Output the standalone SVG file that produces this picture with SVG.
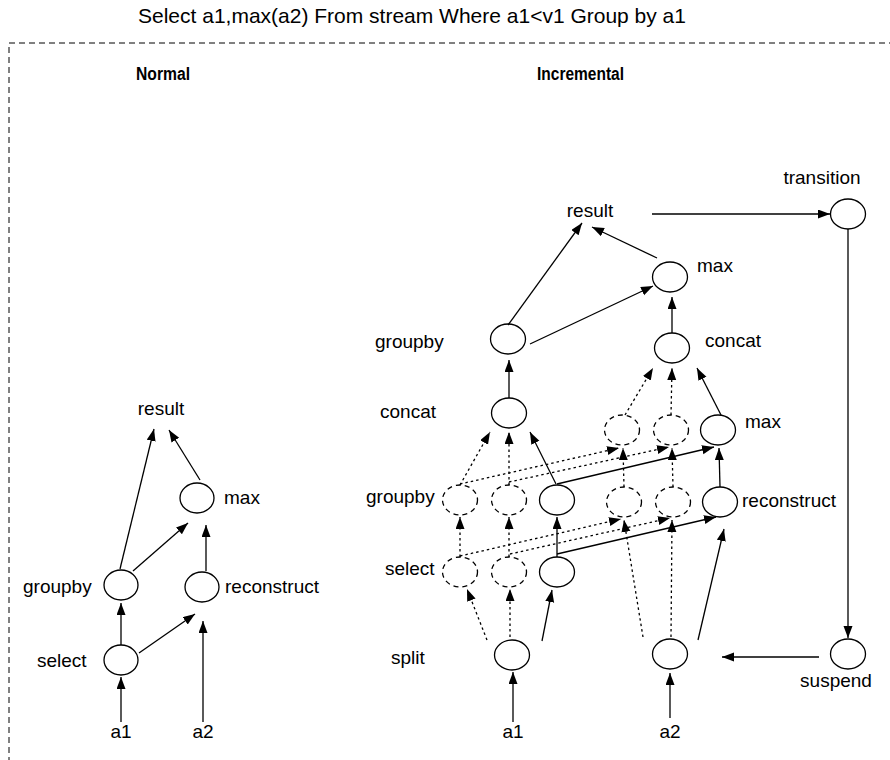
<svg xmlns="http://www.w3.org/2000/svg" width="890" height="760" viewBox="0 0 890 760">
  <defs>
    <marker id="arrow" markerUnits="userSpaceOnUse" markerWidth="13" markerHeight="10" refX="12" refY="4.5" orient="auto">
      <path d="M0,0 L12,4.5 L0,9 Z" fill="#000"/>
    </marker>
    <style>
      text { font-family: "Liberation Sans", Arial, Helvetica, sans-serif; fill: #000; }
      .lbl { font-size: 19px; }
      .title { font-size: 21px; }
      .hdr { font-size: 18px; font-weight: bold; }
      .node { fill: #fff; stroke: #000; stroke-width: 1.3; }
      .ghost { fill: #fff; stroke: #000; stroke-width: 1.3; stroke-dasharray: 5 4; }
      .edge { stroke: #000; stroke-width: 1.3; fill: none; marker-end: url(#arrow); }
      .dot { stroke: #000; stroke-width: 1.3; fill: none; stroke-dasharray: 2.5 3; marker-end: url(#arrow); }
      .frame { fill: none; stroke: #000; stroke-width: 1; stroke-dasharray: 6 4; }
    </style>
  </defs>

  <text class="title" x="138" y="23">Select a1,max(a2) From stream Where a1&lt;v1 Group by a1</text>
  <rect class="frame" x="9" y="43" width="900" height="760"/>
  <text class="hdr" x="136" y="80" textLength="54" lengthAdjust="spacingAndGlyphs">Normal</text>
  <text class="hdr" x="537" y="80" textLength="87" lengthAdjust="spacingAndGlyphs">Incremental</text>

  <!-- Normal plan -->
  <g id="n-result"><text class="lbl" x="161" y="415" text-anchor="middle">result</text></g>
  <g id="n-max"><ellipse class="node" cx="197" cy="498" rx="17" ry="15"/><text class="lbl" x="224" y="504">max</text></g>
  <g id="n-groupby"><ellipse class="node" cx="121" cy="585" rx="17" ry="15"/><text class="lbl" x="23" y="593">groupby</text></g>
  <g id="n-reconstruct"><ellipse class="node" cx="202" cy="587" rx="17" ry="15"/><text class="lbl" x="225" y="593">reconstruct</text></g>
  <g id="n-select"><ellipse class="node" cx="121" cy="660" rx="17" ry="15"/><text class="lbl" x="37" y="667">select</text></g>
  <g id="n-a1"><text class="lbl" x="121" y="738" text-anchor="middle">a1</text></g>
  <g id="n-a2"><text class="lbl" x="203" y="738" text-anchor="middle">a2</text></g>

  <!-- Incremental plan -->
  <g id="i-result"><text class="lbl" x="590" y="217" text-anchor="middle">result</text></g>
  <g id="i-transition"><ellipse class="node" cx="848" cy="214" rx="17.5" ry="15"/><text class="lbl" x="822" y="184" text-anchor="middle">transition</text></g>
  <g id="i-max"><ellipse class="node" cx="670" cy="277" rx="17.5" ry="15"/><text class="lbl" x="697" y="272">max</text></g>
  <g id="i-groupby"><ellipse class="node" cx="508" cy="339" rx="17.5" ry="15"/><text class="lbl" x="375" y="348">groupby</text></g>
  <g id="i-concat-top"><ellipse class="node" cx="672" cy="348" rx="17.5" ry="15"/><text class="lbl" x="705" y="347">concat</text></g>
  <g id="i-concat"><ellipse class="node" cx="509" cy="413" rx="17.5" ry="15"/><text class="lbl" x="380" y="418">concat</text></g>
  <g id="i-max-p1"><ellipse class="ghost" cx="622" cy="430" rx="17.5" ry="15"/></g>
  <g id="i-max-p2"><ellipse class="ghost" cx="671" cy="430" rx="17.5" ry="15"/></g>
  <g id="i-max-p3"><ellipse class="node" cx="718" cy="430" rx="17.5" ry="15"/><text class="lbl" x="745" y="428">max</text></g>
  <g id="i-groupby-row-label"><text class="lbl" x="366" y="503">groupby</text></g>
  <g id="i-groupby-p1"><ellipse class="ghost" cx="460" cy="500" rx="17.5" ry="15"/></g>
  <g id="i-groupby-p2"><ellipse class="ghost" cx="509" cy="500" rx="17.5" ry="15"/></g>
  <g id="i-groupby-p3"><ellipse class="node" cx="557" cy="500" rx="17.5" ry="15"/></g>
  <g id="i-recon-p1"><ellipse class="ghost" cx="624" cy="502" rx="17.5" ry="15"/></g>
  <g id="i-recon-p2"><ellipse class="ghost" cx="673" cy="502" rx="17.5" ry="15"/></g>
  <g id="i-recon-p3"><ellipse class="node" cx="720" cy="502" rx="17.5" ry="15"/><text class="lbl" x="742" y="507">reconstruct</text></g>
  <g id="i-select-row-label"><text class="lbl" x="385" y="575">select</text></g>
  <g id="i-select-p1"><ellipse class="ghost" cx="460" cy="572" rx="17.5" ry="15"/></g>
  <g id="i-select-p2"><ellipse class="ghost" cx="509" cy="572" rx="17.5" ry="15"/></g>
  <g id="i-select-p3"><ellipse class="node" cx="557" cy="572" rx="17.5" ry="15"/></g>
  <g id="i-split-a1"><ellipse class="node" cx="512" cy="655" rx="17.5" ry="15"/><text class="lbl" x="391" y="664">split</text></g>
  <g id="i-split-a2"><ellipse class="node" cx="670" cy="654" rx="17.5" ry="15"/></g>
  <g id="i-suspend"><ellipse class="node" cx="848" cy="654" rx="17.5" ry="15"/><text class="lbl" x="836" y="687" text-anchor="middle">suspend</text></g>
  <g id="i-a1"><text class="lbl" x="513" y="738" text-anchor="middle">a1</text></g>
  <g id="i-a2"><text class="lbl" x="670" y="738" text-anchor="middle">a2</text></g>

  <g id="connectors">
    <!-- Normal -->
    <line class="edge" x1="121" y1="722" x2="121" y2="677"/>
    <line class="edge" x1="121" y1="645" x2="121" y2="603"/>
    <line class="edge" x1="139" y1="653" x2="195" y2="614"/>
    <line class="edge" x1="203" y1="722" x2="203" y2="621"/>
    <line class="edge" x1="120" y1="569" x2="154" y2="429"/>
    <line class="edge" x1="133" y1="571" x2="188" y2="523"/>
    <line class="edge" x1="206" y1="571" x2="206" y2="525"/>
    <line class="edge" x1="200" y1="480" x2="169" y2="430"/>

    <!-- Incremental: inputs and splits -->
    <line class="edge" x1="513" y1="722" x2="513" y2="672"/>
    <line class="dot" x1="487" y1="640" x2="467" y2="589"/>
    <line class="dot" x1="510" y1="637" x2="510" y2="589"/>
    <line class="edge" x1="542" y1="641" x2="552" y2="590"/>
    <line class="edge" x1="670" y1="718" x2="670" y2="673"/>
    <line class="dot" x1="643" y1="637" x2="624" y2="520"/>
    <line class="dot" x1="671" y1="637" x2="672" y2="520"/>
    <line class="edge" x1="698" y1="640" x2="724" y2="529"/>

    <!-- select -> groupby / reconstruct -->
    <line class="dot" x1="460" y1="557" x2="460" y2="517"/>
    <line class="dot" x1="509" y1="557" x2="509" y2="517"/>
    <line class="edge" x1="557" y1="557" x2="557" y2="517"/>
    <line class="dot" x1="460" y1="556" x2="621" y2="519"/>
    <line class="dot" x1="510" y1="554" x2="670" y2="518"/>
    <line class="edge" x1="557" y1="554" x2="716" y2="517"/>

    <!-- groupby / reconstruct -> max -->
    <line class="dot" x1="460" y1="484" x2="619" y2="448"/>
    <line class="dot" x1="509" y1="482" x2="669" y2="447"/>
    <line class="edge" x1="557" y1="484" x2="714" y2="447"/>
    <line class="dot" x1="624" y1="487" x2="623" y2="448"/>
    <line class="dot" x1="673" y1="487" x2="672" y2="448"/>
    <line class="edge" x1="720" y1="487" x2="719" y2="448"/>

    <!-- partial results -> concat -->
    <line class="dot" x1="460" y1="485" x2="490" y2="432"/>
    <line class="dot" x1="509" y1="485" x2="509" y2="432"/>
    <line class="edge" x1="556" y1="484" x2="530" y2="432"/>
    <line class="dot" x1="625" y1="415" x2="653" y2="368"/>
    <line class="dot" x1="671" y1="415" x2="672" y2="368"/>
    <line class="edge" x1="721" y1="415" x2="697" y2="368"/>

    <!-- upper plan -->
    <line class="edge" x1="509" y1="398" x2="509" y2="360"/>
    <line class="edge" x1="672" y1="333" x2="672" y2="297"/>
    <line class="edge" x1="508" y1="325" x2="582" y2="223"/>
    <line class="edge" x1="530" y1="344" x2="653" y2="286"/>
    <line class="edge" x1="657" y1="258" x2="592" y2="227"/>

    <!-- control loop -->
    <line class="edge" x1="652" y1="214" x2="830" y2="214"/>
    <line class="edge" x1="848" y1="229" x2="848" y2="638"/>
    <line class="edge" x1="819" y1="657" x2="722" y2="657"/>
  </g>
</svg>
